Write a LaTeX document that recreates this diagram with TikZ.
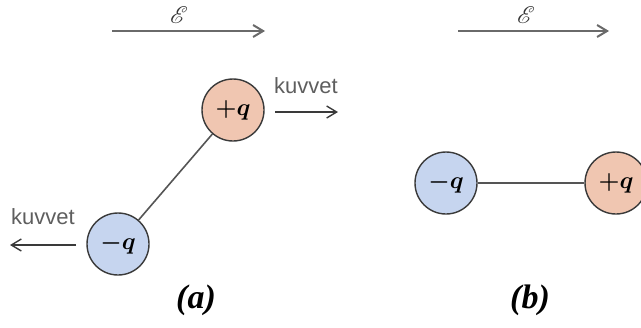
\documentclass[tikz,border=0pt]{standalone}
\usepackage{amsmath}
\usepackage{mathrsfs}
\usepackage{fontspec}
\usepackage{tikz}
\usetikzlibrary{positioning, arrows.meta}
\newfontfamily\labelfont{Liberation Sans}
\newfontfamily\capfont{Liberation Serif}
\definecolor{plusc}{HTML}{F0C6B1}
\definecolor{minusc}{HTML}{C6D5EF}
\definecolor{rim}{HTML}{3A3A3A}
\definecolor{wire}{HTML}{555555}
\definecolor{fieldc}{HTML}{6A6A6A}
\definecolor{labelc}{HTML}{5E5E5E}

\tikzset{
  charge/.style={circle, draw=rim, line width=0.7pt, minimum size=31pt, inner sep=0pt,
                 font=\fontsize{13}{15}\selectfont},
  fieldarrow/.style={-{Straight Barb[length=5pt, width=6pt]}, fieldc, line width=1pt},
  forcearrow/.style={-{Straight Barb[length=5pt, width=6pt]}, rim, line width=0.7pt},
  forcelabel/.style={font=\labelfont\fontsize{11}{13}\selectfont, text=labelc, inner sep=1pt},
  fieldlabel/.style={font=\fontsize{13}{15}\selectfont, text=black!80, inner sep=0pt},
  caption/.style={font=\capfont\fontsize{17}{19}\selectfont\bfseries\itshape}
}

\begin{document}
\begin{tikzpicture}[x=0.5pt, y=-0.5pt]
  \useasboundingbox (0,0) rectangle (641,327);
  % field arrows
  \coordinate (ea1) at (112,31);  \coordinate (ea2) at (265,31);
  \coordinate (eb1) at (458,31);  \coordinate (eb2) at (609,31);
  \draw[fieldarrow] (ea1) -- (ea2);
  \draw[fieldarrow] (eb1) -- (eb2);
  \node[fieldlabel] (Ea) at (179,15) {$\boldsymbol{\mathscr{E}}$};
  \node[fieldlabel] (Eb) at (526,15) {$\boldsymbol{\mathscr{E}}$};
  % (a) tilted dipole
  \node[charge, fill=plusc]  (pa) at (233,110) {$\boldsymbol{+q}$};
  \node[charge, fill=minusc] (ma) at (118,244) {$\boldsymbol{-q}$};
  \draw[wire, line width=0.8pt] (ma) -- (pa);
  \coordinate (fa1) at (275,112); \coordinate (fa2) at (338,112);
  \draw[forcearrow] (fa1) -- (fa2);
  \node[forcelabel] (ka) at (306,86) {kuvvet};
  \coordinate (fb1) at (76,245); \coordinate (fb2) at (10,245);
  \draw[forcearrow] (fb1) -- (fb2);
  \node[forcelabel] (kb) at (43,217) {kuvvet};
  % (b) aligned dipole
  \node[charge, fill=minusc] (mb) at (446,183) {$\boldsymbol{-q}$};
  \node[charge, fill=plusc]  (pb) at (616,183) {$\boldsymbol{+q}$};
  \draw[wire, line width=0.8pt] (mb) -- (pb);
  % captions
  \node[caption] (capa) at (196,300) {(a)};
  \node[caption] (capb) at (530,300) {(b)};
\end{tikzpicture}
\end{document}
